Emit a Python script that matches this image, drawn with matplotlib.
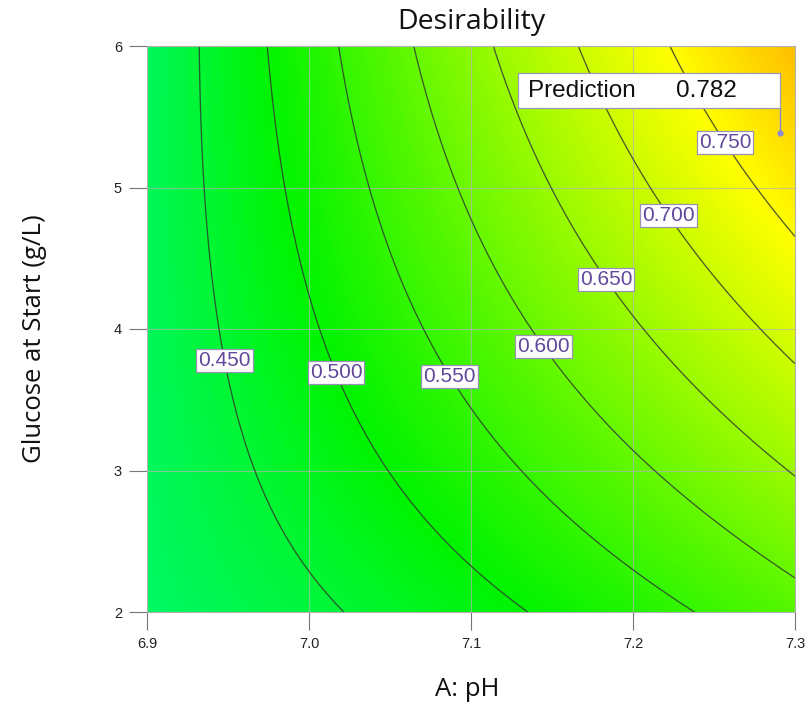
import numpy as np
import matplotlib
matplotlib.use("Agg")
import matplotlib.pyplot as plt
from matplotlib.colors import LinearSegmentedColormap
from matplotlib.patches import Rectangle

# ---------------- data ----------------
contour_levels = [0.45, 0.50, 0.55, 0.60, 0.65, 0.70, 0.75]
level_labels = ["0.450", "0.500", "0.550", "0.600", "0.650", "0.700", "0.750"]

# points lying on each drawn contour (pH, glucose g/L, desirability)
pt_level = [0.45, 0.45, 0.45,
            0.50, 0.50, 0.50,
            0.55, 0.55, 0.55,
            0.60, 0.60, 0.60,
            0.65, 0.65, 0.65,
            0.70, 0.70, 0.70,
            0.75, 0.75, 0.75,
            0.782]
pt_ph = [6.935, 6.949, 7.0245,
         6.973, 7.0146, 7.132,
         7.016, 7.0845, 7.239,
         7.063, 7.145, 7.300,
         7.114, 7.186, 7.300,
         7.167, 7.225, 7.300,
         7.223, 7.260, 7.300,
         7.291]
pt_glu = [6.0, 3.78, 2.0,
          6.0, 3.68, 2.0,
          6.0, 3.65, 2.0,
          6.0, 3.88, 2.248,
          6.0, 4.37, 2.957,
          6.0, 4.83, 3.738,
          6.0, 5.34, 4.603,
          5.383]

pred_ph = 7.291
pred_glu = 5.383
pred_value = "0.782"

x_ticks = [6.9, 7.0, 7.1, 7.2, 7.3]
x_ticklabels = ["6.9", "7.0", "7.1", "7.2", "7.3"]
y_ticks = [2, 3, 4, 5, 6]
y_ticklabels = ["2", "3", "4", "5", "6"]

# ---------------- surface fit (response-surface model) ----------------
def coded(ph, glu):
    return (np.asarray(ph) - 7.1) / 0.2, (np.asarray(glu) - 4.0) / 2.0

def design(a, b):
    return np.column_stack([np.ones_like(a), a, b, a * b, a ** 2, b ** 2,
                            a ** 2 * b, a * b ** 2])

a_pts, b_pts = coded(pt_ph, pt_glu)
coef, *_ = np.linalg.lstsq(design(a_pts, b_pts), np.asarray(pt_level), rcond=None)

gx = np.linspace(6.9, 7.3, 400)
gy = np.linspace(2.0, 6.0, 400)
GX, GY = np.meshgrid(gx, gy)
A, B = coded(GX.ravel(), GY.ravel())
Z = (design(A, B) @ coef).reshape(GX.shape)

# ---------------- figure ----------------
fig = plt.figure(figsize=(8.12, 7.28), dpi=100)
ax = fig.add_axes([147 / 812, 1 - 612 / 728, (795 - 147) / 812, (612 - 46) / 728])

cmap = LinearSegmentedColormap.from_list(
    "de", [(0.0, "#0000ff"), (0.25, "#00ffff"), (0.5, "#00f400"),
           (0.75, "#ffff00"), (1.0, "#ff0000")])
ax.imshow(Z, extent=[6.9, 7.3, 2.0, 6.0], origin="lower", aspect="auto",
          cmap=cmap, vmin=0.0, vmax=1.0, interpolation="bilinear", zorder=0)

cs = ax.contour(GX, GY, Z, levels=contour_levels, colors="#2f3a2f",
                linewidths=0.9, alpha=0.85, zorder=2)

label_pos = [(6.949, 3.78), (7.0146, 3.68), (7.0845, 3.65), (7.145, 3.88),
             (7.186, 4.37), (7.225, 4.83), (7.260, 5.34)]
fmt = {lv: lb for lv, lb in zip(contour_levels, level_labels)}
texts = ax.clabel(cs, inline=False, fmt=fmt, manual=label_pos, fontsize=15,
                  colors="#45288a")
for t in texts:
    t.set_rotation(0)
    t.set_family("Liberation Sans")
    t.set_bbox(dict(facecolor="white", edgecolor="#9a90b8", linewidth=0.9,
                    boxstyle="square,pad=0.1"))
    t.set_zorder(5)

ax.set_xlim(6.9, 7.3)
ax.set_ylim(2.0, 6.0)
ax.set_xticks(x_ticks)
ax.set_xticklabels(x_ticklabels)
ax.set_yticks(y_ticks)
ax.set_yticklabels(y_ticklabels)
ax.grid(True, color="#b4b4b4", linewidth=0.8, alpha=0.7)
for lab in ax.get_xticklabels() + ax.get_yticklabels():
    lab.set_family("Liberation Sans")
    lab.set_fontsize(10.5)
    lab.set_color("#222222")
ax.tick_params(direction="out", length=13, width=0.8, color="#777777", pad=5)
for s in ax.spines.values():
    s.set_color("#b0b0b0")
    s.set_linewidth(0.8)

# prediction flag
ax.plot([pred_ph], [pred_glu], "o", ms=3.5, color="#8a8ad0", zorder=6)
box_w, box_top, box_bot = 0.162, 5.81, 5.56
ax.plot([pred_ph, pred_ph], [box_bot, pred_glu], color="#8a8ad0", lw=1.0, zorder=6)
ax.add_patch(Rectangle((pred_ph - box_w, box_bot), box_w, box_top - box_bot,
                       facecolor="white", edgecolor="#9a9ab8", lw=0.9, zorder=6))
ymid = (box_top + box_bot) / 2
ax.text(pred_ph - box_w + 0.006, ymid, "Prediction", ha="left", va="center",
        fontsize=17.5, family="Liberation Sans", color="#111111", zorder=7)
ax.text(pred_ph - 0.027, ymid, pred_value, ha="right", va="center",
        fontsize=17.5, family="Liberation Sans", color="#111111", zorder=7)

fig.text(471 / 812, 1 - 22 / 728, "Desirability", ha="center", va="center",
         fontsize=20.5, family="Open Sans", color="#111111")
fig.text(35 / 812, 1 - 339 / 728, "Glucose at Start (g/L)", ha="center",
         va="center", rotation=90, fontsize=18.5, family="Open Sans",
         color="#111111")
fig.text(467 / 812, 1 - 690 / 728, "A: pH", ha="center", va="center",
         fontsize=18.5, family="Open Sans", color="#111111")

fig.savefig("out.png", dpi=100)
